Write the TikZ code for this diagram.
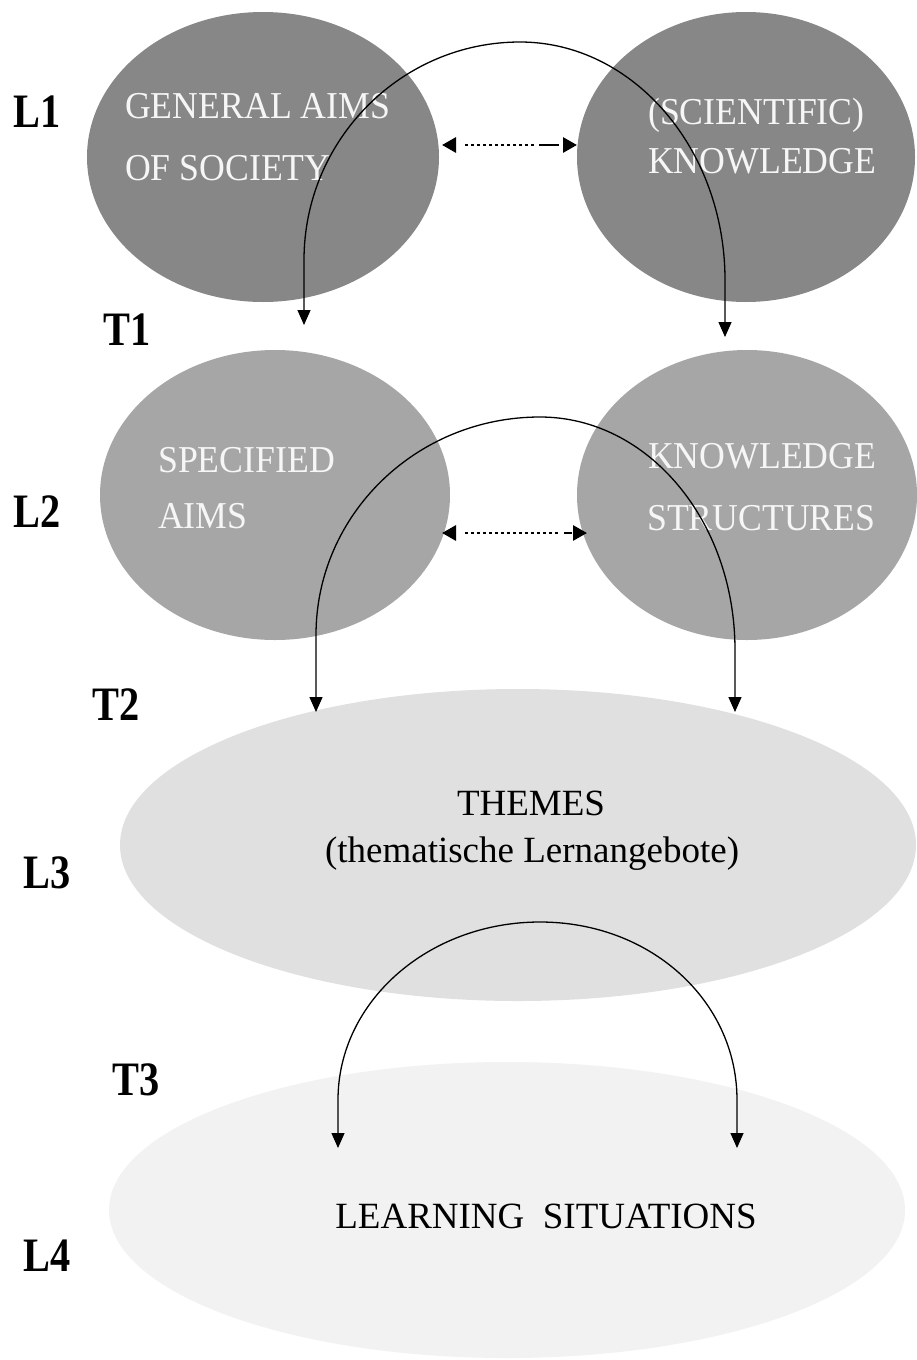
\documentclass[tikz,border=0pt]{standalone}
\usepackage{fontspec}
\setmainfont{Liberation Serif}
\newfontfamily\labfont[FakeStretch=0.84]{Liberation Serif}
\newfontfamily\inrfont[FakeStretch=0.94]{Liberation Serif}
\usetikzlibrary{arrows.meta,shapes.geometric}
\definecolor{darkg}{RGB}{135,135,135}
\definecolor{midg}{RGB}{166,166,166}
\definecolor{lightg}{RGB}{224,224,224}
\definecolor{paleg}{RGB}{242,242,242}
\definecolor{offwhite}{RGB}{246,246,246}
\begin{document}
\begin{tikzpicture}[x=1pt,y=-1pt,
  ell/.style={ellipse, inner sep=0pt, draw=none},
  lab/.style={font=\labfont\bfseries\fontsize{48}{48}\selectfont, anchor=base, inner sep=0pt},
  intxt/.style={font=\inrfont\fontsize{38}{40}\selectfont, text=offwhite, anchor=base west, inner sep=0pt},
  bottxt/.style={font=\fontsize{37}{40}\selectfont, anchor=base, inner sep=0pt},
  bendarr/.style={line width=1.3pt, {Triangle[length=15pt,width=13pt]}-{Triangle[length=15pt,width=13pt]}},
  dblarr/.style={line width=2.8pt, {Triangle[length=14pt,width=15pt]}-{Triangle[length=14pt,width=15pt]}}
]
\fill[white] (0,0) rectangle (916,1360);
\useasboundingbox (0,0) rectangle (916,1360);

% ellipses
\node[ell, fill=darkg, minimum width=352pt, minimum height=290pt] (e1) at (263,157) {};
\node[ell, fill=darkg, minimum width=338pt, minimum height=290pt] (e2) at (746,157) {};
\node[ell, fill=midg, minimum width=350pt, minimum height=290pt] (e3) at (275,495) {};
\node[ell, fill=midg, minimum width=340pt, minimum height=290pt] (e4) at (747,495) {};
\node[ell, fill=lightg, minimum width=796pt, minimum height=312pt] (e5) at (518,845) {};
\node[ell, fill=paleg, minimum width=796pt, minimum height=296pt] (e6) at (507,1210) {};

% texts in ellipses
\node[intxt] (g1) at (125,118) {GENERAL AIMS};
\node[intxt] (g2) at (125,180) {OF SOCIETY};
\node[intxt] (k1) at (648,124) {(SCIENTIFIC)};
\node[intxt] (k2) at (648,173) {KNOWLEDGE};
\node[intxt] (s1) at (158,472) {SPECIFIED};
\node[intxt] (s2) at (158,528) {AIMS};
\node[intxt] (ks1) at (648,468) {KNOWLEDGE};
\node[intxt] (ks2) at (647,530) {STRUCTURES};
\node[bottxt] (th1) at (531,815) {THEMES};
\node[bottxt] (th2) at (532,862) {(thematische Lernangebote)};
\node[bottxt] (ls) at (546,1228) {LEARNING\ \ SITUATIONS};

% level labels
\node[lab] (L1) at (37,127) {L1};
\node[lab] (T1) at (127,345) {T1};
\node[lab] (L2) at (37,527) {L2};
\node[lab] (T2) at (116,720) {T2};
\node[lab] (L3) at (47,888) {L3};
\node[lab] (T3) at (136,1095) {T3};
\node[lab] (L4) at (47,1271) {L4};

% connector end points
\coordinate (a1l) at (304,325);
\coordinate (a1r) at (725,337);
\coordinate (a2l) at (316,712);
\coordinate (a2r) at (735,712);
\coordinate (a3l) at (338,1148);
\coordinate (a3r) at (737,1148);
\coordinate (d1l) at (442,145);
\coordinate (d1r) at (577,145);
\coordinate (d2l) at (442,533);
\coordinate (d2r) at (587,533);

% dotted double arrows
\draw[dblarr, dash pattern=on 0pt off 10pt on 3pt off 3pt on 3pt off 3pt on 3pt off 3pt on 3pt off 3pt on 3pt off 3pt on 3pt off 3pt on 3pt off 3pt on 3pt off 3pt on 3pt off 3pt on 3pt off 3pt on 3pt off 3pt on 3pt off 5pt on 20pt off 10pt] (d1l) -- (d1r);
\draw[dblarr, dash pattern=on 0pt off 10pt on 3pt off 3pt on 3pt off 3pt on 3pt off 3pt on 3pt off 3pt on 3pt off 3pt on 3pt off 3pt on 3pt off 3pt on 3pt off 3pt on 3pt off 3pt on 3pt off 3pt on 3pt off 3pt on 3pt off 3pt on 3pt off 3pt on 3pt off 3pt on 3pt off 3pt on 3pt off 6pt on 8pt off 10pt] (d2l) -- (d2r);

% curved transformation arrows
\draw[bendarr] (a1l) -- (304,260) .. controls (304,140) and (401,42) .. (520,42)
  .. controls (633,42) and (725,149) .. (725,280) -- (a1r);
\draw[bendarr] (a2l) -- (316,635) .. controls (316,515) and (416,417) .. (540,417)
  .. controls (648,417) and (735,521) .. (735,650) -- (a2r);
\draw[bendarr] (a3l) -- (338,1100) .. controls (338,1001) and (429,922) .. (540,922)
  .. controls (651,922) and (737,1001) .. (737,1100) -- (a3r);
\end{tikzpicture}
\end{document}
